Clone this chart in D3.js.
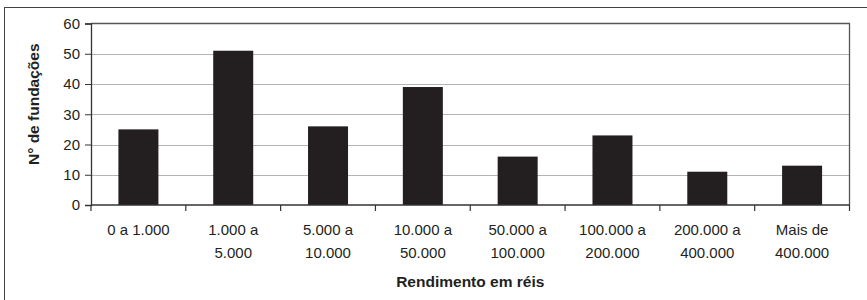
<!DOCTYPE html>
<html>
<head>
<meta charset="utf-8">
<script src="https://cdn.jsdelivr.net/npm/d3@7"></script>
<style>
  body { margin: 0; background: #fff; }
  svg { display: block; font-family: "Liberation Sans", Arial, sans-serif; }
</style>
</head>
<body>
<svg id="chart" width="867" height="300"></svg>
<script>
// categories (two lines each) and counts
const categories = [
  ["0 a 1.000"],
  ["1.000 a", "5.000"],
  ["5.000 a", "10.000"],
  ["10.000 a", "50.000"],
  ["50.000 a", "100.000"],
  ["100.000 a", "200.000"],
  ["200.000 a", "400.000"],
  ["Mais de", "400.000"]
];
const counts = [25, 51, 26, 39, 16, 23, 11, 13];
const yTicks = [0, 10, 20, 30, 40, 50, 60];

const xTitle = "Rendimento em réis";
const yTitle = "N° de fundações";

const ink = "#231f20";
const svg = d3.select("#chart");

const plot = { left: 91, right: 849.5, top: 23.5, bottom: 205 };

// outer frame
svg.append("rect")
  .attr("x", 4.5).attr("y", 7.5)
  .attr("width", 880).attr("height", 320)
  .attr("fill", "none").attr("stroke", "#444").attr("stroke-width", 1);

const x = d3.scaleBand()
  .domain(d3.range(categories.length))
  .range([plot.left, plot.right])
  .paddingInner(0).paddingOuter(0);

const y = d3.scaleLinear()
  .domain([0, 60])
  .range([plot.bottom, plot.top]);

// gridlines
svg.append("g")
  .selectAll("line")
  .data(yTicks.filter(t => t > 0 && t < 60))
  .join("line")
  .attr("x1", plot.left).attr("x2", plot.right)
  .attr("y1", d => Math.round(y(d)) + 0.5).attr("y2", d => Math.round(y(d)) + 0.5)
  .attr("stroke", "#b4b4b4").attr("stroke-width", 1.2);

// bars
const barW = 40;
svg.append("g")
  .selectAll("rect")
  .data(counts)
  .join("rect")
  .attr("x", (d, i) => x(i) + x.bandwidth() / 2 - barW / 2)
  .attr("y", d => y(d))
  .attr("width", barW)
  .attr("height", d => y(0) - y(d))
  .attr("fill", ink);

// plot border (top, right)
svg.append("path")
  .attr("d", `M${plot.left},${plot.top}H${plot.right}V${plot.bottom}`)
  .attr("fill", "none").attr("stroke", "#555").attr("stroke-width", 1.3);

// y axis
const yAxis = svg.append("g")
  .attr("transform", `translate(${plot.left},0)`)
  .call(d3.axisLeft(y).tickValues(yTicks).tickSize(6).tickPadding(5));
yAxis.select(".domain").attr("stroke", "#333").attr("stroke-width", 1.3);
yAxis.selectAll(".tick line").attr("stroke", "#333");
yAxis.selectAll(".tick text")
  .attr("fill", ink)
  .style("font-size", "15px")
  .style("font-family", "Liberation Sans, Arial, sans-serif");

// x axis: ticks at band boundaries
const bounds = d3.range(categories.length + 1).map(i => plot.left + i * x.bandwidth());
svg.append("line")
  .attr("x1", plot.left).attr("x2", plot.right)
  .attr("y1", plot.bottom).attr("y2", plot.bottom)
  .attr("stroke", "#333").attr("stroke-width", 1.3);
svg.append("g")
  .selectAll("line")
  .data(bounds)
  .join("line")
  .attr("x1", d => d).attr("x2", d => d)
  .attr("y1", plot.bottom).attr("y2", plot.bottom + 6)
  .attr("stroke", "#333").attr("stroke-width", 1.2);

// x labels
const labels = svg.append("g")
  .selectAll("text")
  .data(categories)
  .join("text")
  .attr("text-anchor", "middle")
  .attr("fill", ink)
  .style("font-size", "15px");
labels.selectAll("tspan")
  .data((d, i) => d.map(line => ({ line, i })))
  .join("tspan")
  .attr("x", d => x(d.i) + x.bandwidth() / 2)
  .attr("y", (d, j) => 235 + j * 22.5)
  .text(d => d.line);

// axis titles
svg.append("text")
  .attr("x", (plot.left + plot.right) / 2)
  .attr("y", 287)
  .attr("text-anchor", "middle")
  .attr("fill", ink)
  .style("font-size", "15.5px")
  .style("font-weight", "bold")
  .text(xTitle);

svg.append("text")
  .attr("transform", `translate(39,${(plot.top + plot.bottom) / 2 - 10}) rotate(-90)`)
  .attr("text-anchor", "middle")
  .attr("fill", ink)
  .style("font-size", "15.5px")
  .style("font-weight", "bold")
  .text(yTitle);
</script>
</body>
</html>
